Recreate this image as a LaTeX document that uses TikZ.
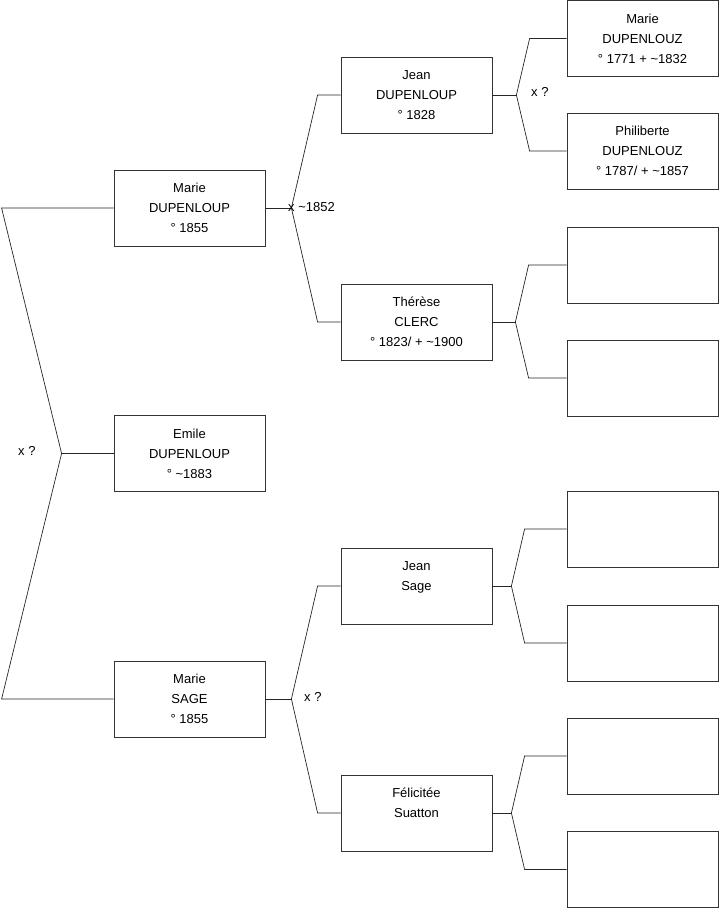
\documentclass[tikz,border=0pt]{standalone}
\usepackage{fontspec}
\setmainfont{Liberation Sans}
\usetikzlibrary{calc}

\tikzset{
  person/.style={draw=black!80, line width=0.8pt, minimum width=151pt, minimum height=76pt,
                 inner sep=0pt, align=center, font=\fontsize{13}{20}\selectfont},
  link/.style={draw=black!85, line width=0.7pt},
  union/.style={anchor=west, inner sep=0pt, font=\fontsize{13}{15}\selectfont}
}

\begin{document}
\begin{tikzpicture}[x=1pt,y=-1pt]
\useasboundingbox (0,0) rectangle (719,908);

            % Generation 1
            \node[person] (marieD) at (189.5,208) {Marie\\DUPENLOUP\\° 1855};
            \node[person] (emile) at (189.5,453.5) {Emile\\DUPENLOUP\\° \textasciitilde1883};
            \node[person] (marieS) at (189.5,699) {Marie\\SAGE\\° 1855};

            % Generation 2
            \node[person] (jeanD) at (416.5,95) {Jean\\DUPENLOUP\\° 1828};
            \node[person] (therese) at (416.5,322) {Thérèse\\CLERC\\° 1823/ + \textasciitilde1900};
            \node[person] (jeanS) at (416.5,586) {Jean\\Sage\\\mbox{}};
            \node[person] (felicitee) at (416.5,813) {Félicitée\\Suatton\\\mbox{}};

            % Generation 3
            \node[person] (mariez) at (642.5,38.5) {Marie\\DUPENLOUZ\\° 1771 + \textasciitilde1832};
            \node[person] (philiberte) at (642.5,151) {Philiberte\\DUPENLOUZ\\° 1787/ + \textasciitilde1857};
            \foreach \n/\y in {e1/265, e2/378, e3/529, e4/643, e5/756, e6/869.5} {
                \node[person] (\n) at (642.5,\y) {};
            }

            % Forks (parent / vertex offset / elbow offset / upper child / lower child)
            \foreach \p/\d/\e/\a/\b in {marieD/26/23/jeanD/therese, marieS/26/23/jeanS/felicitee,
                                       jeanD/24/37/mariez/philiberte, therese/23/38/e1/e2,
                                       jeanS/19/42/e3/e4, felicitee/19/42/e5/e6} {
                \draw[link] (\p.east) -- ++(\d,0) coordinate (v-\p);
                \draw[link] (\a.west) -- ++(-\e,0) -- (v-\p) -- ($(\b.west)+(-\e,0)$) -- (\b.west);
            }

            % Fork of the first generation
            \coordinate (v-emile) at ($(emile.west)+(-52,0)$);
            \draw[link] (emile.west) -- (v-emile);
            \draw[link] (marieD.west) -- ++(-112,0) -- (v-emile) -- ($(marieS.west)+(-112,0)$) -- (marieS.west);

            % Unions
            \node[union] (u1) at (18,451) {x ?};
            \node[union] (u2) at (288,207) {x \textasciitilde1852};
            \node[union] (u3) at (531,92) {x ?};
            \node[union] (u4) at (304,697) {x ?};

\end{tikzpicture}
\end{document}
